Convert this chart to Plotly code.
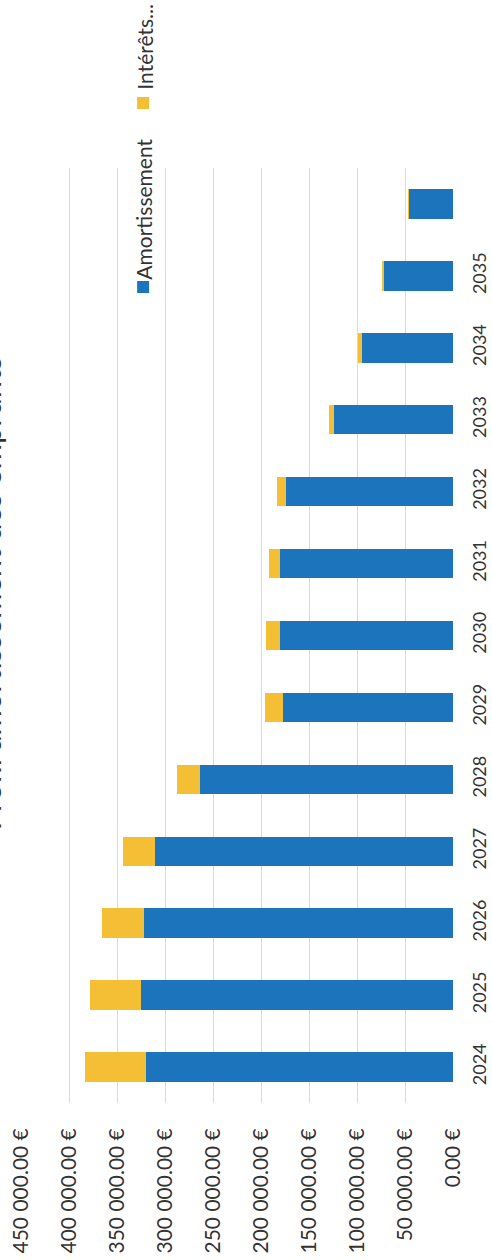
import plotly.graph_objects as go

# Loan repayment profile: yearly principal (Amortissement) and interest (Intérêts)
years = ["2024", "2025", "2026", "2027", "2028", "2029", "2030",
         "2031", "2032", "2033", "2034", "2035", " "]
amortissement = [320000, 325500, 322000, 310500, 264000, 177500, 180000,
                 180000, 174000, 123500, 94500, 72000, 46500]
interets = [63000, 53000, 43500, 33000, 24000, 18500, 15000,
            11500, 9000, 6000, 4000, 1300, 200]
value_ticks = [0, 50000, 100000, 150000, 200000, 250000, 300000, 350000, 400000, 450000]
value_labels = ["0.00 €", "50 000.00 €", "100 000.00 €", "150 000.00 €", "200 000.00 €",
                "250 000.00 €", "300 000.00 €", "350 000.00 €", "400 000.00 €", "450 000.00 €"]

title_text = "Profil amortissement des emprunts"
legend_names = ["Amortissement", "Intérêts..."]

BLUE = "#1C75BC"
YELLOW = "#F4BE35"
TEXT = "#333333"
GRID = "#D9D9D9"
FONT = "Lato"

fig = go.Figure()
fig.add_trace(go.Bar(y=years, x=amortissement, orientation="h", name=legend_names[0],
                     marker=dict(color=BLUE, line=dict(width=0))))
fig.add_trace(go.Bar(y=years, x=interets, orientation="h", name=legend_names[1],
                     marker=dict(color=YELLOW, line=dict(width=0))))

W, H = 492, 1260
L, R, T, B = 20.7, 38.7, 168, 157
pw, ph = W - L - R, H - T - B


def px_x(px):
    return (px - L) / pw


def px_y(py):
    return (H - B - py) / ph


fig.update_layout(
    width=W, height=H,
    margin=dict(l=L, r=R, t=T, b=B, pad=0, autoexpand=False),
    barmode="stack", bargap=0.59,
    plot_bgcolor="white", paper_bgcolor="white",
    showlegend=False,
    font=dict(family=FONT, color=TEXT),
)
fig.update_xaxes(
    range=[450000, 0], tickvals=value_ticks, ticktext=value_labels,
    tickangle=-90, tickfont=dict(size=21, family=FONT, color=TEXT),
    showgrid=True, gridcolor=GRID, gridwidth=1, automargin=False,
    zeroline=False, showline=False, ticks="", ticklabelstandoff=20,
)
fig.update_yaxes(
    type="category", categoryorder="array", categoryarray=years,
    range=[-0.5, len(years) - 0.5], side="right", automargin=False,
    tickangle=-90, tickfont=dict(size=18, family=FONT, color=TEXT),
    showgrid=False, zeroline=False, showline=False, ticks="", ticklabelstandoff=14,
)

# Rotated chart title (runs along the left edge)
fig.add_annotation(
    text=title_text, textangle=-90, showarrow=False,
    xref="paper", yref="paper", x=px_x(10), y=px_y(593),
    xanchor="right", yanchor="middle",
    font=dict(size=31, family=FONT, color=TEXT),
)

# Rotated legend: colour keys plus labels
legend_entries = [
    (legend_names[0], BLUE, 281, 293, 209),
    (legend_names[1], YELLOW, 97, 109, 47),
]
for name, color, key_top, key_bottom, text_mid in legend_entries:
    fig.add_shape(
        type="rect", xref="paper", yref="paper",
        x0=px_x(137), x1=px_x(149), y0=px_y(key_bottom), y1=px_y(key_top),
        fillcolor=color, line=dict(width=0),
    )
    fig.add_annotation(
        text=name, textangle=-90, showarrow=False,
        xref="paper", yref="paper", x=px_x(143.5), y=px_y(text_mid),
        xanchor="center", yanchor="middle",
        font=dict(size=21, family=FONT, color=TEXT),
    )

fig.write_html("out.html")
